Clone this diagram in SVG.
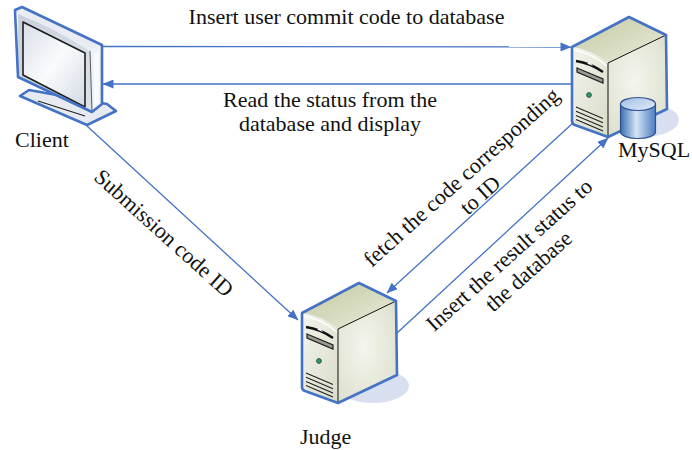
<svg xmlns="http://www.w3.org/2000/svg" xmlns:xlink="http://www.w3.org/1999/xlink" width="692" height="450" viewBox="0 0 692 450">
<style>
text{font-family:"Liberation Serif","Times New Roman",serif;font-size:22px;fill:#111}
.conn{stroke:#4472C4;stroke-width:1.3;fill:none}
.outline{fill:none;stroke:#4472C4;stroke-width:2.6;stroke-linejoin:round}
.edge{fill:none;stroke:#111;stroke-width:1}
</style>
<defs>
<marker id="arr" markerUnits="userSpaceOnUse" markerWidth="11" markerHeight="9" refX="10.5" refY="4.5" orient="auto">
<path d="M0,0 L11,4.5 L0,9 Z" fill="#4472C4"/>
</marker>
<linearGradient id="gTop" x1="0" y1="0" x2="1" y2="1">
<stop offset="0" stop-color="#C2C9A2"/><stop offset="1" stop-color="#E9ECDB"/>
</linearGradient>
<linearGradient id="gFront" x1="0" y1="0" x2="1" y2="1">
<stop offset="0" stop-color="#F3F4EC"/><stop offset="1" stop-color="#D9DCC9"/>
</linearGradient>
<radialGradient id="gRight" cx="0.45" cy="0.45" r="0.7">
<stop offset="0" stop-color="#F4F5EE"/><stop offset="1" stop-color="#DCDFCB"/>
</radialGradient>
<linearGradient id="gCyl" x1="0" y1="0" x2="1" y2="0">
<stop offset="0" stop-color="#3D6DB3"/><stop offset="0.45" stop-color="#D4E4F6"/><stop offset="1" stop-color="#4B7CC0"/>
</linearGradient>
<linearGradient id="gCylTop" x1="0" y1="0" x2="1" y2="1">
<stop offset="0" stop-color="#9FBDE6"/><stop offset="1" stop-color="#E3EEFA"/>
</linearGradient>
<linearGradient id="gScreen" x1="0" y1="0" x2="1" y2="1">
<stop offset="0" stop-color="#D9DEE8"/><stop offset="0.5" stop-color="#FAFBFD"/><stop offset="1" stop-color="#D3D9E4"/>
</linearGradient>
<linearGradient id="gBezel" x1="0" y1="0" x2="1" y2="1">
<stop offset="0" stop-color="#C9D0DC"/><stop offset="1" stop-color="#DDE2EA"/>
</linearGradient>
<g id="server">
<ellipse cx="71" cy="73" rx="36" ry="17" fill="#D8E0EF"/>
<path d="M0,0 L57,-30 L94,-12 L36,16 Q20,3 0,0 Z" fill="url(#gTop)"/>
<path d="M0,0 Q20,3 36,16 L36,90 L0,77 Z" fill="url(#gFront)"/>
<path d="M36,16 L94,-12 L95,62 L36,90 Z" fill="url(#gRight)"/>
<path d="M1,3 Q20,6 35,19" fill="none" stroke="#FFFFFF" stroke-width="1.5"/>
<path class="edge" d="M36,16 L94,-12 M36,16 L36,90"/>
<path d="M4,14 Q18,16 31,25" fill="none" stroke="#111" stroke-width="2.4"/>
<path d="M15,16.5 L18,15.5 L21,19 Z" fill="#FFFFFF"/>
<path d="M5,21 L31,32 L31,36 L5,25 Z" fill="#9A9C92" stroke="#222" stroke-width="1.2"/>
<circle cx="17" cy="48" r="2.4" fill="#2E9B6A" stroke="#1F3F2F" stroke-width="0.8"/>
<path d="M4,60 L31,71.5 M4,64.2 L31,75.7 M4,68.4 L31,79.9 M4,72.6 L31,84.1" fill="none" stroke="#222" stroke-width="1.1"/>
<path class="outline" d="M0,0 L57,-30 L94,-12 L95,62 L36,90 L3,78 Q0,77 0,74 Z"/>
</g>
</defs>

<g id="connectors">
<line class="conn" x1="102" y1="46.5" x2="571" y2="47" marker-end="url(#arr)"/>
<line class="conn" x1="572" y1="84" x2="103" y2="84" marker-end="url(#arr)"/>
<line class="conn" x1="87" y1="126" x2="298" y2="320" marker-end="url(#arr)"/>
<line class="conn" x1="573" y1="123" x2="387" y2="293" marker-end="url(#arr)"/>
<line class="conn" x1="397" y1="333" x2="608" y2="138" marker-end="url(#arr)"/>
</g>

<g id="client">
<path d="M92,99 L103,97 L103,108 L92,112 Z" fill="#DDE3EC"/>
<path d="M20,96 L29,90 L107,104 L116,111 L87,125 Z" fill="#E7EBF1" stroke="#4472C4" stroke-width="2.6" stroke-linejoin="round"/>
<path d="M38,101 L85,116" stroke="#222" stroke-width="1.2"/>
<path d="M15,10 L22,7 L102,45 L90,51 Q55,28 18,14 Z" fill="#E9EDF3"/>
<path d="M18,14 Q55,28 90,51 L92,112 L18,77 Z" fill="url(#gBezel)"/>
<path d="M90,51 L102,45 L102,104 L92,112 Z" fill="#EEF2F7"/>
<path d="M94,54 L99,51 L99,104 L94,107 Z" fill="#FFFFFF" opacity="0.7"/>
<path d="M23,22 L85,53 L85,107 L23,75 Z" fill="url(#gScreen)" stroke="#1E1E1E" stroke-width="1.6" stroke-linejoin="round"/>
<path d="M90,51 L92,112" stroke="#333" stroke-width="0.8"/>
<path d="M15,10 L22,7 L102,45 L102,104 L92,112 L18,77 Z" fill="none" stroke="#4472C4" stroke-width="2.6" stroke-linejoin="round"/>
<text x="15" y="147">Client</text>
</g>

<g id="mysql">
<use xlink:href="#server" x="572" y="47"/>
<path d="M620.5,104 L620.5,132 A17.5,6.5 0 0 0 655.5,132 L655.5,104 Z" fill="url(#gCyl)" stroke="#2F528F" stroke-width="1.2"/>
<ellipse cx="638" cy="104" rx="17.5" ry="6.5" fill="url(#gCylTop)" stroke="#2F528F" stroke-width="1.2"/>
<text x="618" y="157">MySQL</text>
</g>

<g id="judge">
<use xlink:href="#server" x="302" y="313"/>
<text x="300" y="444">Judge</text>
</g>

<g id="labels">
<text x="346.5" y="24" text-anchor="middle">Insert user commit code to database</text>
<text x="330" y="107" text-anchor="middle">Read the status from the</text>
<text x="330" y="131" text-anchor="middle">database and display</text>
<text transform="translate(159,238.5) rotate(42)" text-anchor="middle">Submission code ID</text>
<text transform="translate(466.3,182.7) rotate(-42)" text-anchor="middle">fetch the code corresponding</text>
<text transform="translate(485,200.5) rotate(-42)" text-anchor="middle">to ID</text>
<text transform="translate(514.1,260.4) rotate(-42)" text-anchor="middle">Insert the result status to</text>
<text transform="translate(533.3,276.7) rotate(-42)" text-anchor="middle">the database</text>
</g>
</svg>
